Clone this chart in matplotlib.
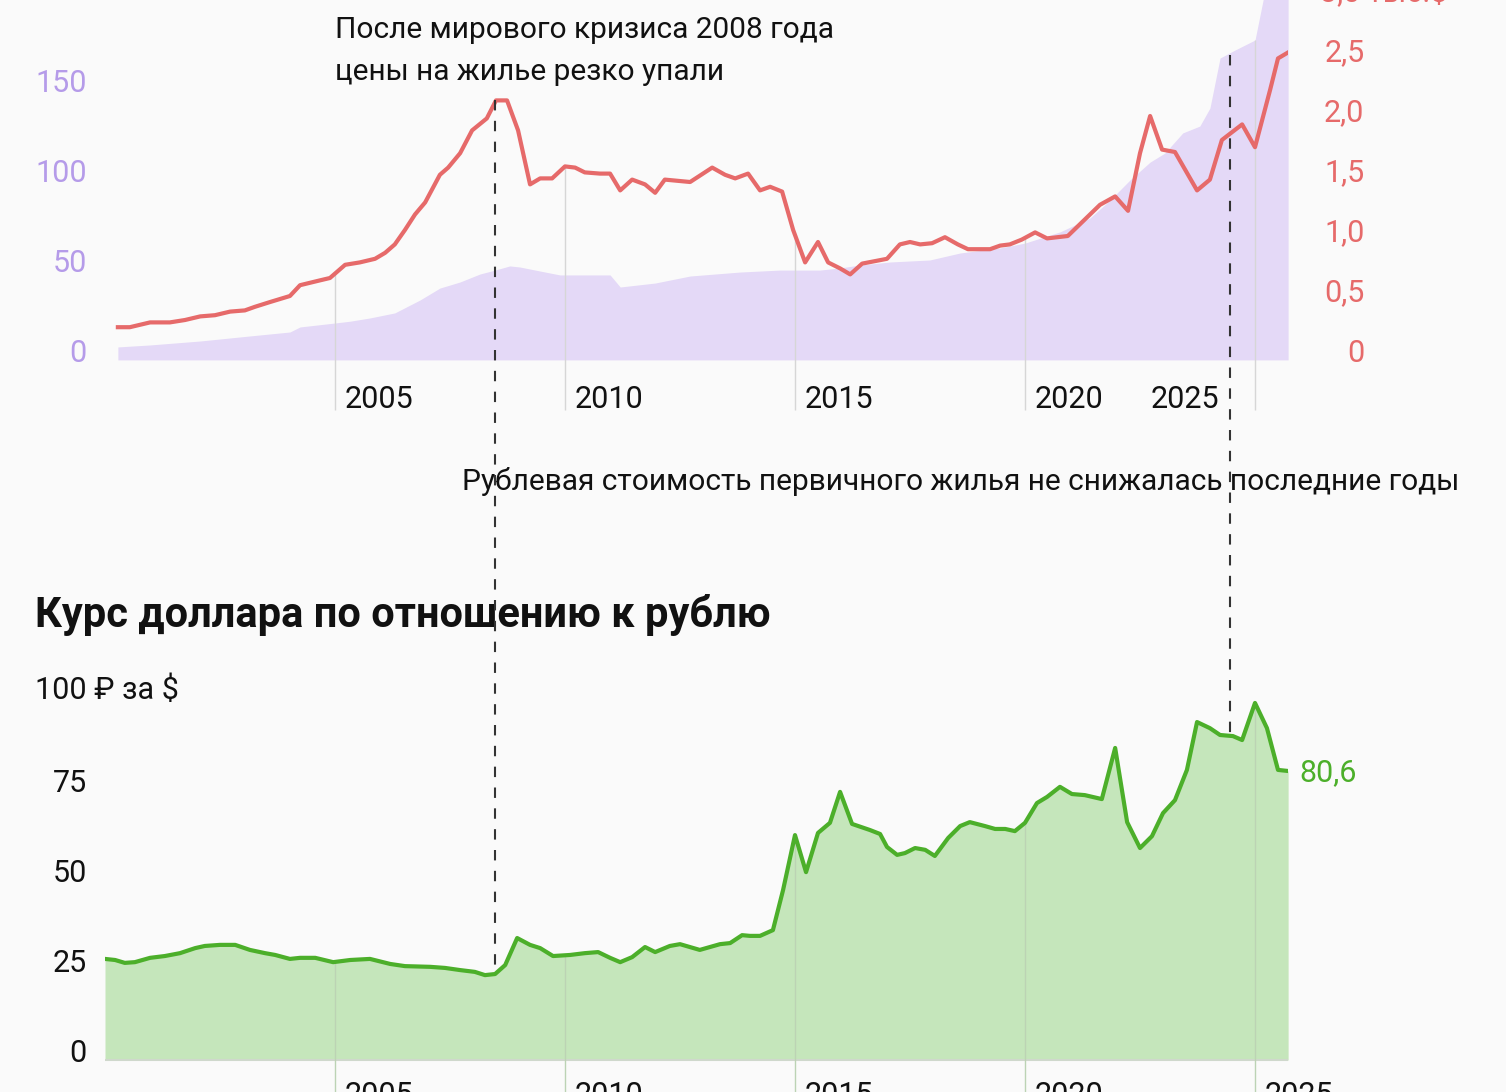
import numpy as np
import matplotlib
matplotlib.use('Agg')
import matplotlib.pyplot as plt
from matplotlib.lines import Line2D

plt.rcParams['font.family'] = ['Roboto', 'DejaVu Sans']

# цена м2 в долларах, тыс. $
usd_years = [2000.28, 2000.54, 2000.98, 2001.41, 2001.74, 2002.07, 2002.39, 2002.72, 2003.04, 2003.26,
             2003.59, 2004.02, 2004.24, 2004.67, 2004.89, 2005.22, 2005.54, 2005.87, 2006.09, 2006.30,
             2006.52, 2006.74, 2006.96, 2007.28, 2007.46, 2007.72, 2007.98, 2008.30, 2008.50, 2008.74,
             2008.98, 2009.24, 2009.46, 2009.72, 2010.00, 2010.22, 2010.43, 2010.76, 2010.98, 2011.20,
             2011.46, 2011.74, 2011.96, 2012.17, 2012.72, 2013.20, 2013.48, 2013.70, 2013.98, 2014.24,
             2014.46, 2014.72, 2014.96, 2015.22, 2015.50, 2015.72, 2015.98, 2016.20, 2016.46, 2017.00,
             2017.28, 2017.50, 2017.72, 2017.98, 2018.26, 2018.54, 2018.76, 2019.24, 2019.46, 2019.67,
             2019.93, 2020.22, 2020.48, 2020.93, 2021.63, 2021.96, 2022.24, 2022.50, 2022.72, 2022.98,
             2023.26, 2023.74, 2024.02, 2024.28, 2024.72, 2025.00, 2025.33, 2025.50, 2025.72]
usd_price = [0.19, 0.19, 0.23, 0.23, 0.25, 0.28, 0.29, 0.32, 0.33, 0.36,
             0.40, 0.45, 0.54, 0.58, 0.60, 0.71, 0.73, 0.76, 0.81, 0.88,
             1.00, 1.13, 1.23, 1.46, 1.52, 1.64, 1.83, 1.93, 2.08, 2.08,
             1.83, 1.38, 1.43, 1.43, 1.53, 1.52, 1.48, 1.47, 1.47, 1.33,
             1.42, 1.38, 1.31, 1.42, 1.40, 1.52, 1.46, 1.43, 1.47, 1.33,
             1.36, 1.32, 1.00, 0.73, 0.90, 0.73, 0.68, 0.63, 0.72, 0.76,
             0.88, 0.90, 0.88, 0.89, 0.94, 0.88, 0.84, 0.84, 0.87, 0.88,
             0.92, 0.98, 0.93, 0.95, 1.21, 1.28, 1.16, 1.64, 1.95, 1.67,
             1.65, 1.33, 1.42, 1.75, 1.88, 1.69, 2.17, 2.43, 2.48]

# цена м2 в рублях, тыс. ₽
rub_years = [2000.28, 2000.98, 2002.07, 2003.15, 2004.02, 2004.24, 2005.00, 2005.33, 2005.76, 2006.30,
             2006.85, 2007.28, 2007.72, 2008.15, 2008.48, 2008.80, 2009.02, 2009.57, 2009.89, 2010.98,
             2011.20, 2011.96, 2012.72, 2013.80, 2014.67, 2015.54, 2015.98, 2016.41, 2017.07, 2017.93,
             2018.59, 2019.46, 2020.00, 2020.76, 2021.41, 2021.85, 2022.28, 2022.72, 2023.04, 2023.43,
             2023.80, 2024.02, 2024.24, 2024.57, 2025.00, 2025.22, 2025.72]
rub_price = [1.7, 2.8, 5.0, 7.8, 10, 12.8, 15, 16, 17.8, 20.6,
             27.8, 34.4, 37.8, 42.2, 44.4, 46.7, 46.1, 43.3, 41.7, 41.7,
             35, 37.2, 41.1, 43.3, 44.4, 44.4, 45.6, 47.2, 48.9, 50,
             53.9, 56.7, 59.4, 65.6, 73.3, 83.3, 94.4, 104.4, 109.4, 120.6,
             124.4, 134.4, 162.2, 166.7, 172.2, 200, 215]

# курс доллара
fx_years = [2000.00, 2000.22, 2000.43, 2000.65, 2000.98, 2001.30, 2001.63, 2001.96, 2002.17, 2002.50,
            2002.83, 2003.15, 2003.48, 2003.70, 2004.02, 2004.24, 2004.57, 2004.96, 2005.33, 2005.76,
            2006.20, 2006.52, 2007.07, 2007.39, 2007.72, 2008.04, 2008.26, 2008.48, 2008.70, 2008.96,
            2009.24, 2009.46, 2009.74, 2010.11, 2010.43, 2010.72, 2010.98, 2011.20, 2011.46, 2011.74,
            2011.96, 2012.28, 2012.50, 2012.93, 2013.37, 2013.59, 2013.85, 2014.02, 2014.24, 2014.52,
            2014.74, 2015.00, 2015.24, 2015.50, 2015.76, 2015.98, 2016.24, 2016.63, 2016.85, 2017.00,
            2017.22, 2017.39, 2017.61, 2017.83, 2018.04, 2018.33, 2018.59, 2018.80, 2019.13, 2019.35,
            2019.57, 2019.78, 2020.00, 2020.26, 2020.48, 2020.76, 2021.02, 2021.30, 2021.67, 2021.96,
            2022.22, 2022.50, 2022.76, 2023.00, 2023.26, 2023.52, 2023.74, 2024.02, 2024.24, 2024.52,
            2024.72, 2025.00, 2025.26, 2025.50, 2025.72]
fx_rate = [25.3, 25.0, 24.2, 24.4, 25.6, 26.1, 26.9, 28.3, 28.9, 29.2,
           29.2, 27.8, 26.9, 26.4, 25.3, 25.6, 25.6, 24.4, 25.0, 25.3,
           23.9, 23.3, 23.1, 22.8, 22.2, 21.7, 20.8, 21.1, 23.6, 31.1,
           29.2, 28.3, 26.1, 26.4, 26.9, 27.2, 25.6, 24.4, 25.8, 28.6,
           27.2, 28.9, 29.4, 27.8, 29.4, 29.7, 31.9, 31.7, 31.7, 33.3,
           44.4, 59.7, 49.4, 60.3, 63.1, 71.7, 62.8, 61.1, 60.0, 56.4,
           54.2, 54.7, 56.1, 55.6, 53.9, 58.9, 62.2, 63.3, 62.2, 61.4,
           61.4, 60.8, 63.1, 68.6, 70.3, 73.1, 71.1, 70.8, 69.7, 83.9,
           63.3, 56.1, 59.4, 65.8, 69.4, 77.8, 91.1, 89.4, 87.5, 87.2,
           86.1, 96.4, 89.4, 77.8, 77.5]

grid_years = [2005, 2010, 2015, 2020, 2025]

BG = '#fafafa'
PURPLE_FILL = '#e4d9f7'
PURPLE_TXT = '#b59be9'
RED = '#e66a6a'
GREEN = '#4caf2a'
GREEN_FILL = '#c5e6bb'
GRID = '#d6d6d6'
FS = 22

W, H = 1506, 1092
fig = plt.figure(figsize=(W / 100, H / 100), dpi=100, facecolor=BG)

X0, X1 = 2000, 2000 + (1288 - 105) / 46


def fx_px(yr):
    return (105 + (yr - 2000) * 46) / W


# верхний график
ax = fig.add_axes([105 / W, 1 - 350 / H, 1183 / W, 350 / H])
ax2 = ax.twinx()
for a in (ax, ax2):
    a.set_facecolor('none')
    for s in a.spines.values():
        s.set_visible(False)
ax.set_xlim(X0, X1)
L_TOP = 350 / 1.8
R_TOP = 350 / 120
ax.set_ylim(0, L_TOP)
ax2.set_ylim(0, R_TOP)

ax.fill_between(rub_years, -5.5, rub_price, color=PURPLE_FILL, lw=0, zorder=1, clip_on=False)
k = R_TOP / L_TOP
for g in grid_years:
    top = max(np.interp(g, usd_years, usd_price), np.interp(g, rub_years, rub_price) * k)
    ax2.vlines(g, -60 / 120, top, color=GRID, lw=1, clip_on=False, zorder=2)
ax2.plot(usd_years, usd_price, color=RED, lw=3, zorder=3)

ax.set_yticks([0, 50, 100, 150])
ax.set_yticklabels(['0', '50', '100', '150'])
ax.tick_params(axis='y', length=0, pad=13, labelsize=FS, labelcolor=PURPLE_TXT)
ax.set_xticks([])
ax2.set_yticks([0, 0.5, 1.0, 1.5, 2.0, 2.5])
ax2.set_yticklabels(['0', '0,5', '1,0', '1,5', '2,0', '2,5'])
ax2.tick_params(axis='y', length=0, pad=55, labelsize=FS, labelcolor=RED)
for t in ax2.get_yticklabels():
    t.set_horizontalalignment('right')

for yr, lbl in zip([2005.22, 2010.22, 2015.22, 2020.22, 2022.74],
                   ['2005', '2010', '2015', '2020', '2025']):
    ax.text(yr, -50 / 1.8, lbl, fontsize=FS, va='center', ha='left', color='#111')

fig.text(35 / W, 1 + 8 / H, '200 тыс.₽', fontsize=FS, color=PURPLE_TXT, va='center')
fig.text(1320 / W, 1 + 8 / H, '3,0 тыс.$', fontsize=FS, color=RED, va='center')

fig.text(335 / W, 1 - 30 / H, 'После мирового кризиса 2008 года', fontsize=21.5, va='center', color='#111')
fig.text(335 / W, 1 - 72 / H, 'цены на жилье резко упали', fontsize=21.5, va='center', color='#111')
fig.text(462 / W, 1 - 481 / H, 'Рублевая стоимость первичного жилья не снижалась последние годы',
         fontsize=21.5, va='center', color='#111')

# нижний график
bx = fig.add_axes([105 / W, 0, 1183 / W, 402 / H])
bx.set_facecolor('none')
for s in bx.spines.values():
    s.set_visible(False)
bx.set_xlim(X0, X1)
bx.set_ylim(-42 / 3.6, 100)
bx.fill_between(fx_years, -2.8, fx_rate, color=GREEN_FILL, lw=0, zorder=1)
bx.axhline(-2.8, color='#cfd8cc', lw=1.5, zorder=1)
for g in grid_years:
    bx.vlines(g, -15, np.interp(g, fx_years, fx_rate), color='#bcd3b4', lw=1, zorder=2)
bx.plot(fx_years, fx_rate, color=GREEN, lw=3, zorder=3)
bx.text(fx_years[-1] + 0.25, 77.0, '80,6', color=GREEN, fontsize=FS, va='center', ha='left')

bx.set_yticks([0, 25, 50, 75])
bx.set_yticklabels(['0', '25', '50', '75'])
bx.tick_params(axis='y', length=0, pad=13, labelsize=FS, labelcolor='#111')
bx.set_xticks([])
for g in grid_years:
    bx.text(g + 0.22, -8.6, str(g), fontsize=FS, va='top', ha='left', color='#111', clip_on=False)

fig.text(35 / W, 1 - 690 / H, '100 ₽ за $', fontsize=FS, va='center', color='#111')
fig.text(35 / W, 1 - 615 / H, 'Курс доллара по отношению к рублю', fontsize=30,
         fontweight='bold', va='center', color='#111')

# пунктирные линии-выноски
for yr, y_top, y_bot in [(2008.48, 100, 975), (2024.46, 55, 735)]:
    x = fx_px(yr)
    fig.add_artist(Line2D([x, x], [1 - y_top / H, 1 - y_bot / H], transform=fig.transFigure,
                          color='#333', lw=1.5, dashes=(5, 5), zorder=5))

fig.savefig('out.png', dpi=100, facecolor=BG)
